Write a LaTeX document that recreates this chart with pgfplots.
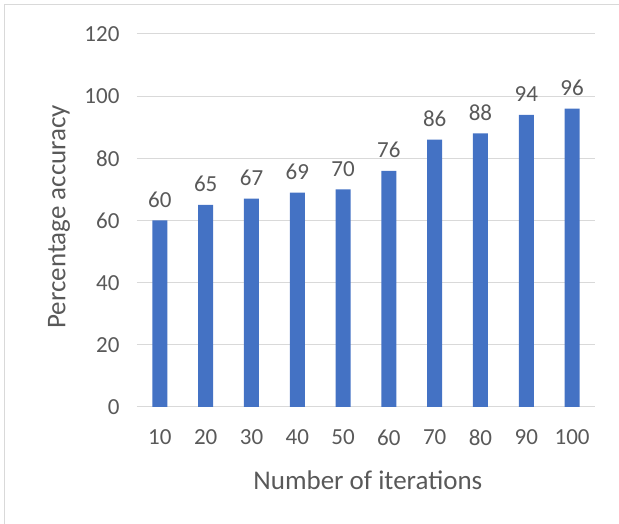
\documentclass[border=0pt]{standalone}
\usepackage{pgfplots}
\pgfplotsset{compat=1.18}
\usepackage{fontspec}
\setmainfont{Carlito}
\definecolor{barblue}{HTML}{4472C4}
\definecolor{txt}{HTML}{595959}
\definecolor{gridc}{HTML}{D9D9D9}
\begin{document}
\begin{tikzpicture}[x=1pt,y=1pt]
\useasboundingbox (-137,-117) rectangle (482,407);
\draw[gridc, line width=1pt] (-132,-117) -- (-132,402) -- (482,402);
\begin{axis}[
  at={(0,0)}, anchor=south west,
  scale only axis, width=458pt, height=373pt,
  xmin=-0.5, xmax=9.5, ymin=0, ymax=120,
  ytick={0,20,...,120},
  xtick={0,...,9},
  xticklabels={10,20,30,40,50,60,70,80,90,100},
  ymajorgrids, grid style={gridc, line width=1pt},
  axis x line*=bottom, axis y line*=left,
  x axis line style={gridc, line width=1pt, -},
  y axis line style={draw=none},
  major tick length=0pt,
  /pgf/number format/assume math mode=true,
  tick label style={font=\fontsize{23}{27}\selectfont, text=txt},
  yticklabel style={xshift=-14pt},
  xticklabel style={yshift=-19pt},
  xlabel={Number of iterations},
  ylabel={Percentage accuracy},
  label style={font=\fontsize{27}{32}\selectfont, text=txt},
  xlabel style={at={(axis description cs:0.504,-0.196)}, anchor=center},
  ylabel style={at={(axis description cs:-0.17,0.51)}, anchor=center, rotate=0},
  nodes near coords,
  every node near coord/.append style={font=\fontsize{23}{27}\selectfont, text=txt, anchor=south, yshift=9.5pt},
  point meta=explicit symbolic,
]
\addplot[ybar, bar width=15pt, fill=barblue, draw=none] table[meta=y] {
x y
0 60
1 65
2 67
3 69
4 70
5 76
6 86
7 88
8 94
9 96
};
\end{axis}
\end{tikzpicture}
\end{document}
